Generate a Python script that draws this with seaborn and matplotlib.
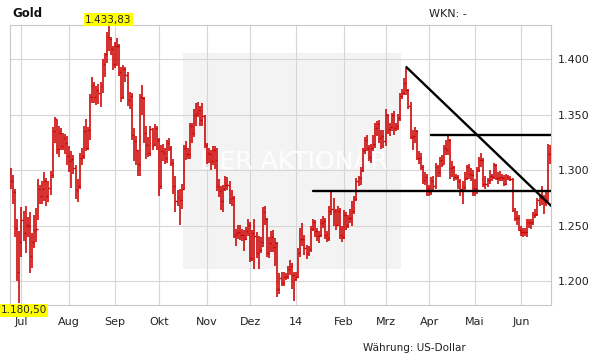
import numpy as np
import pandas as pd
import matplotlib
matplotlib.use("Agg")
import matplotlib.pyplot as plt
import matplotlib.patches as mpatches
import seaborn as sns

# ---------------- data (daily gold bars, USD) ----------------
start_date = "2013-06-24"
end_date = "2014-06-20"

close = [
    1290, 1280, 1248, 1208, 1235,  # Jun 13
    1255, 1243, 1251, 1250, 1223, 1235, 1246, 1247, 1283, 1277, 1283, 1290, 1277, 1284, 1296, 1335, 1346, 1319, 1334, 1322, 1329, 1325, 1313,  # Jul
    1308, 1310, 1302, 1282, 1286, 1311, 1313, 1335, 1320, 1336, 1366, 1377, 1366, 1372, 1370, 1376, 1396, 1405, 1420, 1418, 1409, 1396,  # Aug
    1412, 1412, 1389, 1366, 1391, 1386, 1363, 1367, 1332, 1326, 1318, 1306, 1366, 1365, 1334, 1323, 1316, 1337, 1323, 1338, 1327,  # Sep
    1286, 1317, 1316, 1311, 1325, 1320, 1307, 1286, 1272, 1276, 1273, 1283, 1320, 1315, 1315, 1340, 1334, 1350, 1352, 1354, 1345, 1349, 1323,  # Oct
    1316, 1315, 1308, 1318, 1309, 1286, 1281, 1272, 1283, 1287, 1287, 1274, 1275, 1242, 1243, 1244, 1242, 1242, 1238, 1245, 1251,  # Nov
    1221, 1243, 1241, 1225, 1228, 1235, 1262, 1256, 1225, 1234, 1240, 1231, 1234, 1193, 1203, 1198, 1204, 1205, 1211, 1214, 1206, 1202,  # Dec
    1204, 1225, 1238, 1238, 1230, 1225, 1229, 1247, 1253, 1245, 1241, 1242, 1252, 1254, 1242, 1239, 1263, 1265, 1263, 1251, 1263, 1242, 1240,  # Jan 14
    1260, 1251, 1257, 1257, 1263, 1274, 1290, 1293, 1300, 1318, 1327, 1320, 1312, 1320, 1324, 1338, 1342, 1329, 1331, 1326,  # Feb
    1350, 1337, 1339, 1350, 1338, 1340, 1347, 1367, 1370, 1379, 1372, 1358, 1330, 1331, 1335, 1311, 1311, 1303, 1291, 1294, 1284,  # Mar
    1280, 1290, 1286, 1303, 1298, 1309, 1306, 1320, 1318, 1327, 1302, 1303, 1294, 1294, 1290, 1283, 1285, 1293, 1303, 1297, 1296, 1284,  # Apr
    1283, 1300, 1309, 1309, 1288, 1288, 1291, 1295, 1294, 1305, 1293, 1293, 1294, 1293, 1288, 1294, 1292, 1292, 1264, 1257, 1257, 1246,  # May
    1244, 1244, 1244, 1253, 1252, 1253, 1260, 1261, 1273, 1275, 1274, 1271, 1272, 1315, 1316,  # Jun
]

high = [
    1302, 1296, 1283, 1256, 1245,
    1267, 1263, 1268, 1258, 1262, 1243, 1260, 1266, 1292, 1287, 1290, 1298, 1293, 1290, 1299, 1339, 1348, 1345, 1340, 1338, 1334, 1333, 1331,
    1322, 1317, 1314, 1305, 1292, 1316, 1320, 1340, 1346, 1339, 1369, 1384, 1380, 1376, 1378, 1380, 1400, 1406, 1425, 1433.83, 1420, 1412,
    1416, 1419, 1414, 1393, 1395, 1393, 1389, 1371, 1370, 1338, 1331, 1318, 1369, 1377, 1366, 1340, 1330, 1340, 1338, 1342, 1340,
    1329, 1323, 1324, 1320, 1327, 1329, 1322, 1310, 1295, 1282, 1283, 1288, 1323, 1326, 1320, 1343, 1343, 1355, 1361, 1362, 1358, 1361, 1350,
    1325, 1320, 1318, 1322, 1322, 1320, 1292, 1286, 1287, 1295, 1294, 1290, 1282, 1277, 1247, 1251, 1251, 1247, 1246, 1249, 1256,
    1253, 1246, 1256, 1244, 1241, 1240, 1267, 1268, 1257, 1240, 1245, 1246, 1239, 1235, 1207, 1208, 1208, 1207, 1214, 1219, 1216, 1208,
    1208, 1230, 1248, 1252, 1242, 1233, 1232, 1250, 1256, 1255, 1248, 1245, 1256, 1259, 1257, 1245, 1268, 1281, 1275, 1265, 1268, 1266, 1250,
    1264, 1262, 1260, 1265, 1272, 1277, 1293, 1295, 1303, 1320, 1330, 1332, 1323, 1324, 1332, 1343, 1344, 1345, 1336, 1336,
    1355, 1351, 1343, 1352, 1353, 1343, 1351, 1370, 1373, 1383, 1392, 1373, 1362, 1336, 1339, 1336, 1317, 1316, 1305, 1298, 1297,
    1287, 1294, 1295, 1307, 1305, 1312, 1314, 1323, 1327, 1332, 1328, 1308, 1304, 1297, 1296, 1292, 1290, 1298, 1305, 1306, 1302, 1300,
    1292, 1303, 1312, 1316, 1311, 1295, 1293, 1300, 1297, 1307, 1306, 1298, 1299, 1297, 1296, 1297, 1296, 1295, 1293, 1266, 1263, 1260,
    1250, 1248, 1248, 1256, 1256, 1256, 1262, 1265, 1275, 1278, 1286, 1278, 1280, 1324, 1323,
]

low = [
    1283, 1270, 1240, 1200, 1180.5,
    1222, 1236, 1225, 1240, 1207, 1212, 1230, 1235, 1255, 1270, 1270, 1272, 1268, 1271, 1278, 1293, 1325, 1315, 1312, 1318, 1318, 1315, 1305,
    1298, 1284, 1297, 1274, 1271, 1283, 1305, 1310, 1317, 1318, 1327, 1361, 1361, 1359, 1360, 1357, 1370, 1384, 1397, 1408, 1404, 1390,
    1392, 1394, 1385, 1362, 1364, 1380, 1358, 1355, 1327, 1308, 1305, 1295, 1295, 1350, 1325, 1310, 1312, 1313, 1318, 1322, 1318,
    1277, 1283, 1308, 1306, 1307, 1317, 1304, 1279, 1262, 1268, 1251, 1265, 1282, 1309, 1310, 1310, 1325, 1330, 1340, 1348, 1340, 1340, 1320,
    1306, 1307, 1300, 1305, 1301, 1281, 1276, 1264, 1262, 1281, 1282, 1270, 1268, 1239, 1232, 1238, 1237, 1236, 1227, 1237, 1241,
    1217, 1218, 1211, 1221, 1211, 1225, 1231, 1251, 1222, 1221, 1226, 1226, 1214, 1186, 1188, 1196, 1196, 1201, 1202, 1206, 1193, 1182,
    1200, 1203, 1222, 1232, 1224, 1220, 1223, 1226, 1245, 1240, 1236, 1234, 1240, 1248, 1238, 1235, 1236, 1260, 1250, 1246, 1250, 1238, 1235,
    1238, 1246, 1248, 1252, 1250, 1261, 1272, 1286, 1287, 1298, 1315, 1317, 1308, 1307, 1317, 1320, 1331, 1325, 1319, 1320,
    1322, 1333, 1331, 1335, 1332, 1335, 1336, 1344, 1364, 1368, 1368, 1355, 1328, 1318, 1325, 1309, 1306, 1300, 1288, 1287, 1277,
    1277, 1278, 1282, 1283, 1294, 1294, 1303, 1306, 1314, 1314, 1292, 1294, 1290, 1291, 1283, 1277, 1270, 1282, 1291, 1292, 1290, 1277,
    1277, 1279, 1298, 1303, 1285, 1283, 1285, 1288, 1290, 1292, 1291, 1288, 1290, 1290, 1286, 1287, 1291, 1290, 1262, 1254, 1251, 1245,
    1241, 1240, 1241, 1240, 1248, 1247, 1251, 1257, 1259, 1268, 1269, 1261, 1268, 1272, 1306,
]

month_labels = ["Jul", "Aug", "Sep", "Okt", "Nov", "Dez", "14", "Feb", "Mrz", "Apr", "Mai", "Jun"]
y_ticks = [1200, 1250, 1300, 1350, 1400]

# drawn chart lines (support, resistance, downtrend)
support_start, support_level = "2014-01-13", 1281
resist_start, resist_level = "2014-04-02", 1332
trend_start, trend_start_value, trend_end_value = "2014-03-17", 1393, 1268

# ---------------- build frame ----------------
dates = pd.bdate_range(start_date, end_date)
assert len(dates) == len(close) == len(high) == len(low)
df = pd.DataFrame({"date": dates, "close": close, "high": high, "low": low})
df["idx"] = np.arange(len(df))

def pos(d):
    return int(np.searchsorted(dates, pd.Timestamp(d)))

month_start = df.groupby(df["date"].dt.to_period("M"))["idx"].min().values[1:]

# ---------------- styling ----------------
sns.set_theme(style="white")
plt.rcParams["font.family"] = ["DejaVu Sans"]

W, H = 611, 364
fig = plt.figure(figsize=(W / 100, H / 100), dpi=100)
ax = fig.add_axes([10 / W, (H - 305) / H, 541 / W, 280 / H])

red = "#cc0000"
ax.vlines(df["idx"], df["low"], df["high"], color=red, lw=1.15, zorder=3)
# close tick running on to the next bar (next open)
ax.hlines(df["close"], df["idx"], df["idx"] + 0.95, color=red, lw=1.0, zorder=3)

x_right = len(df) - 0.5
lines_df = pd.DataFrame({
    "x": [pos(support_start), x_right, pos(resist_start), x_right, pos(trend_start), x_right],
    "y": [support_level, support_level, resist_level, resist_level, trend_start_value, trend_end_value],
    "line": ["s", "s", "r", "r", "t", "t"],
})
sns.lineplot(data=lines_df, x="x", y="y", units="line", estimator=None,
             color="black", lw=1.7, ax=ax, zorder=4, sort=False)

ax.set_xlim(-0.5, x_right)
ax.set_ylim(1178.5, 1431)

# watermark
ax.add_patch(mpatches.Rectangle((0.320, 0.129), 0.403, 0.771, transform=ax.transAxes,
                                facecolor="#f3f3f3", edgecolor="none", zorder=0.2))
ax.text(0.524, 0.51, "DER AKTIONÄR", transform=ax.transAxes, ha="center", va="center",
        fontsize=18, fontweight="normal", color="white", alpha=0.9, zorder=0.8)

ax.set_xticks(month_start)
ax.set_xticklabels(month_labels)
ax.set_yticks(y_ticks)
ax.set_yticklabels([f"{v:,.0f}".replace(",", ".") for v in y_ticks])
ax.yaxis.tick_right()
ax.tick_params(axis="x", length=0, pad=8.5, labelsize=8, colors="#222222")
ax.tick_params(axis="y", length=0, pad=5, labelsize=8, colors="#222222")
ax.set_xlabel("")
ax.set_ylabel("")

ax.set_axisbelow(True)
ax.grid(True, color="#d6d6d6", lw=0.8, zorder=0.5)
for s in ax.spines.values():
    s.set_color("#c8c8c8")
    s.set_linewidth(0.8)

def fmt_de(v):
    return f"{v:,.2f}".replace(",", "X").replace(".", ",").replace("X", ".")

fig.text(12.5 / W, 1 - 17 / H, "Gold", fontsize=8.5, fontweight="bold", va="baseline", color="#111111")
fig.text(429 / W, 1 - 17 / H, "WKN: -", fontsize=8, va="baseline", color="#222222")
fig.text(414 / W, 1 - 351 / H, "Währung: US-Dollar", fontsize=7.5, ha="center", va="baseline", color="#222222")

fig.text(108.5 / W, 1 - 19.5 / H, fmt_de(max(high)), fontsize=7.5, ha="center", va="center",
         bbox=dict(boxstyle="square,pad=0.12", fc="#ffff00", ec="none"))
fig.text(1 / W, 1 - 310.5 / H, fmt_de(min(low)), fontsize=7.5, ha="left", va="center",
         bbox=dict(boxstyle="square,pad=0.1", fc="#ffff00", ec="none"))

fig.savefig("out.png", dpi=100)
